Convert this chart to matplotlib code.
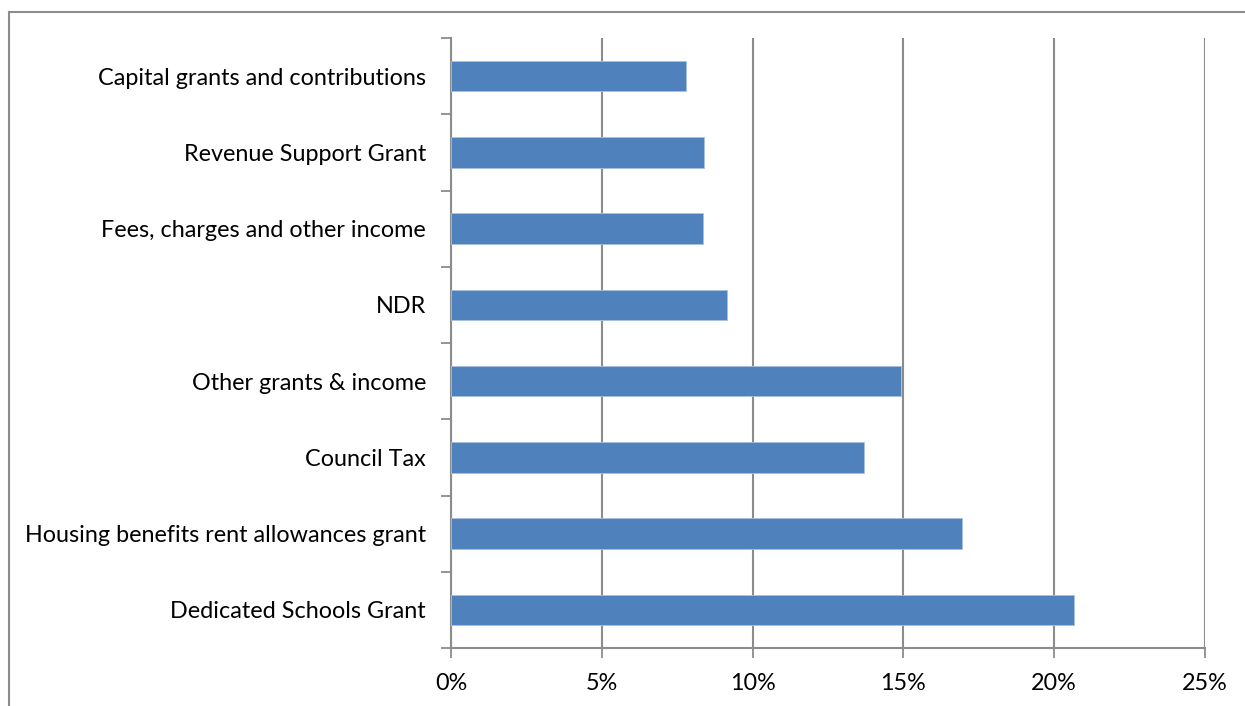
import matplotlib.pyplot as plt
from matplotlib.ticker import FuncFormatter, FixedLocator
from matplotlib.lines import Line2D

# Income sources as a share of total income (%)
categories = [
    "Dedicated Schools Grant",
    "Housing benefits rent allowances grant",
    "Council Tax",
    "Other grants & income",
    "NDR",
    "Fees, charges and other income",
    "Revenue Support Grant",
    "Capital grants and contributions",
]
shares = [20.65, 16.93, 13.7, 14.92, 9.15, 8.35, 8.4, 7.78]

bar_color = "#4F81BD"
grid_color = "#8C8C8C"

plt.rcParams["font.family"] = ["Lato", "DejaVu Sans"]

fig = plt.figure(figsize=(12.45, 7.06), dpi=100)
ax = fig.add_axes([451 / 1245, 1 - 648 / 706, 754 / 1245, 610 / 706])

ypos = list(range(len(categories)))
ax.barh(ypos, shares, height=0.4, color=bar_color, edgecolor="#A9C1E0",
        linewidth=0.6, zorder=3)

ax.set_xlim(0, 25)
ax.set_ylim(-0.5, len(categories) - 0.5)

ax.set_xticks(range(0, 26, 5))
ax.xaxis.set_major_formatter(FuncFormatter(lambda v, p: f"{v:.0f}%"))
ax.set_yticks(ypos)
ax.set_yticklabels(categories)
ax.yaxis.set_minor_locator(FixedLocator([i - 0.5 for i in range(len(categories) + 1)]))

ax.tick_params(axis="y", which="major", length=0, pad=18, labelsize=16.8)
ax.tick_params(axis="y", which="minor", length=7, width=1.3, color=grid_color)
ax.tick_params(axis="x", which="major", length=7, width=1.3, color=grid_color,
               pad=11, labelsize=16.8)

ax.grid(axis="x", color=grid_color, linewidth=1.5, zorder=0)
for side in ["top", "right"]:
    ax.spines[side].set_visible(False)
for side in ["left", "bottom"]:
    ax.spines[side].set_color(grid_color)
    ax.spines[side].set_linewidth(1.5)

# chart area frame, running off the right and bottom edges
fig.add_artist(Line2D([9 / 1245, 1.0], [1 - 12 / 706] * 2, color=grid_color,
                      linewidth=1.5, transform=fig.transFigure))
fig.add_artist(Line2D([9 / 1245] * 2, [0.0, 1 - 12 / 706], color=grid_color,
                      linewidth=1.5, transform=fig.transFigure))

fig.savefig("out.png", dpi=100)
